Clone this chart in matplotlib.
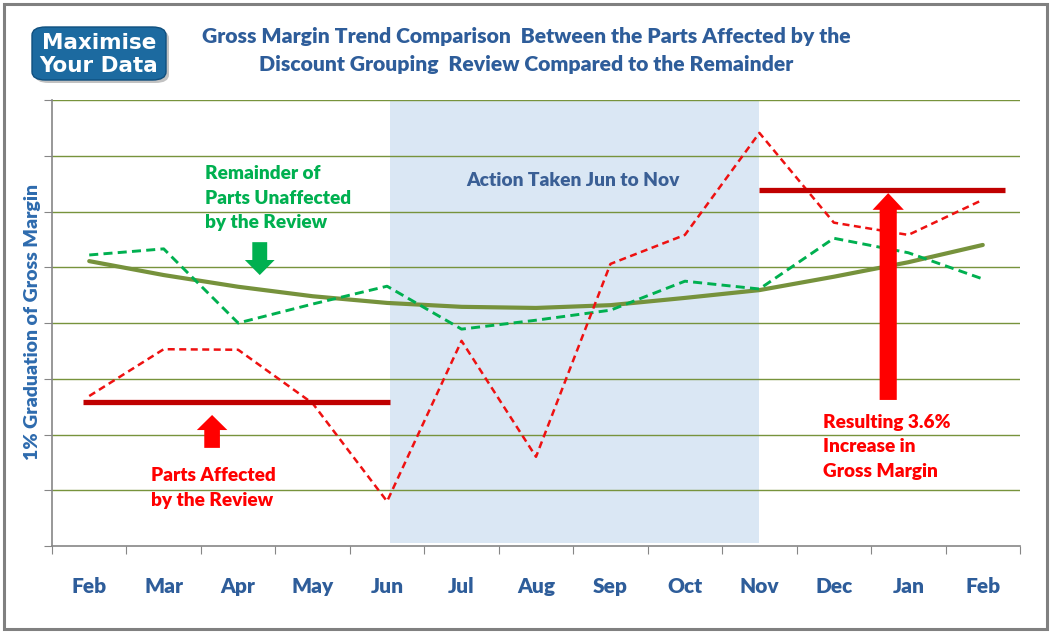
import numpy as np
import matplotlib
matplotlib.use("Agg")
import matplotlib.pyplot as plt
from matplotlib.patches import FancyBboxPatch, FancyArrow, Rectangle

months = ["Feb", "Mar", "Apr", "May", "Jun", "Jul", "Aug", "Sep", "Oct", "Nov", "Dec", "Jan", "Feb"]
affected = [2.69, 3.53, 3.52, 2.56, 0.80, 3.68, 1.60, 5.06, 5.58, 7.41, 5.80, 5.58, 6.21]
remainder = [5.22, 5.33, 4.00, 4.34, 4.66, 3.89, 4.05, 4.23, 4.75, 4.61, 5.52, 5.26, 4.79]
trend = [5.11, 4.86, 4.65, 4.48, 4.36, 4.29, 4.27, 4.32, 4.45, 4.59, 4.83, 5.09, 5.40]
before_level = 2.58
after_level = 6.39

title_col = "#2E5D9A"
grid_col = "#77933C"
ax_col = "#868686"

fig = plt.figure(figsize=(10.52, 6.33), dpi=100)
plt.rcParams['font.family'] = ['Lato', 'DejaVu Sans']
W = "heavy"

# outer frame
fig.patches.append(Rectangle((0.004, 0.006), 0.991, 0.988, transform=fig.transFigure,
                             fill=False, edgecolor="#808080", linewidth=2.2))

ax = fig.add_axes([52/1052, 1-546/633, 968/1052, 446/633])
x = np.arange(len(months))

ax.axvspan(4.04, 9.0, ymin=0.006, ymax=1.0, color="#DAE7F4", zorder=0, lw=0)
for g in range(1, 9):
    ax.axhline(g, color=grid_col, lw=1.0, zorder=1)

ax.plot(x, trend, color="#76923C", lw=3, solid_capstyle="round", zorder=3)
ax.plot(x, remainder, color="#00B050", lw=2.1, ls=(0, (3.1, 1.8)), zorder=4)
ax.plot(x, affected, color="#EE1111", lw=1.8, ls=(0, (2.8, 1.8)), zorder=4)

ax.hlines(before_level, -0.08, 4.04, color="#C00000", lw=3.8, zorder=5)
ax.hlines(after_level, 9.0, 12.3, color="#C00000", lw=3.8, zorder=5)

# arrows
ax.add_patch(FancyArrow(1.65, 1.76, 0, 0.59, width=0.21, head_width=0.41, head_length=0.27,
                        length_includes_head=True, color="#FF0000", lw=0, zorder=6))
ax.add_patch(FancyArrow(10.73, 2.62, 0, 3.71, width=0.23, head_width=0.42, head_length=0.3,
                        length_includes_head=True, color="#FF0000", lw=0, zorder=6))
ax.add_patch(FancyArrow(2.29, 5.45, 0, -0.59, width=0.2, head_width=0.4, head_length=0.27,
                        length_includes_head=True, color="#00B050", lw=0, zorder=6))

ax.set_xlim(-0.5, 12.5)
ax.set_ylim(0, 8)
ax.set_xticks(np.arange(-0.5, 13, 1))
ax.set_xticklabels([])
ax.set_xticks(x, minor=True)
ax.set_xticklabels(months, minor=True, fontsize=15, fontweight=W, color=title_col)
ax.tick_params(axis="x", which="minor", length=0, pad=22)
ax.tick_params(axis="x", which="major", length=6, color=ax_col, direction="out")
ax.set_yticks(np.arange(0, 9, 1))
ax.set_yticklabels([])
ax.tick_params(axis="y", length=6, color=ax_col, direction="out")
for s in ["top", "right"]:
    ax.spines[s].set_visible(False)
for s in ["left", "bottom"]:
    ax.spines[s].set_color(ax_col)
    ax.spines[s].set_linewidth(1.2)

# annotations
fs = 13.7
ls = 1.55
ax.text(6.5, 6.55, "Action Taken Jun to Nov", ha="center", va="center",
        fontsize=13.8, fontweight=W, color="#3A5F95")
ax.text(1.55, 6.24, "Remainder of\nParts Unaffected\nby the Review", ha="left", va="center",
        fontsize=fs, fontweight=W, color="#00B050", linespacing=ls)
ax.text(0.83, 1.04, "Parts Affected\nby the Review", ha="left", va="center",
        fontsize=fs, fontweight=W, color="#FF0000", linespacing=ls)
ax.text(9.85, 1.78, "Resulting 3.6%\nIncrease in\nGross Margin", ha="left", va="center",
        fontsize=fs, fontweight=W, color="#FF0000", linespacing=ls)

fig.text(33/1052, 1-322/633, "1% Graduation of Gross Margin", rotation=90, ha="center",
         va="center", fontsize=14, fontweight=W, color="#2E6BAE")

fig.text(526/1052, 1-36/633, "Gross Margin Trend Comparison  Between the Parts Affected by the",
         ha="center", va="center", fontsize=15.2, fontweight=W, color=title_col)
fig.text(526/1052, 1-64/633, "Discount Grouping  Review Compared to the Remainder",
         ha="center", va="center", fontsize=15.2, fontweight=W, color=title_col)

# logo
fig.patches.append(FancyBboxPatch((35/1052, 1-83/633), 134/1052, 53/633,
                                  boxstyle="round,pad=0,rounding_size=0.013",
                                  transform=fig.transFigure, facecolor="#9A9A9A",
                                  edgecolor="none", alpha=0.6))
fig.patches.append(FancyBboxPatch((32/1052, 1-80/633), 134/1052, 53/633,
                                  boxstyle="round,pad=0,rounding_size=0.013",
                                  transform=fig.transFigure, facecolor="#1C6AA0",
                                  edgecolor="#0F4F7E", linewidth=1))
fig.text(99/1052, 1-43/633, "Maximise", ha="center", va="center", fontsize=15.5,
         fontweight="bold", color="white", family="DejaVu Sans")
fig.text(99/1052, 1-66/633, "Your Data", ha="center", va="center", fontsize=15.5,
         fontweight="bold", color="white", family="DejaVu Sans")

fig.savefig("out.png", dpi=100)
